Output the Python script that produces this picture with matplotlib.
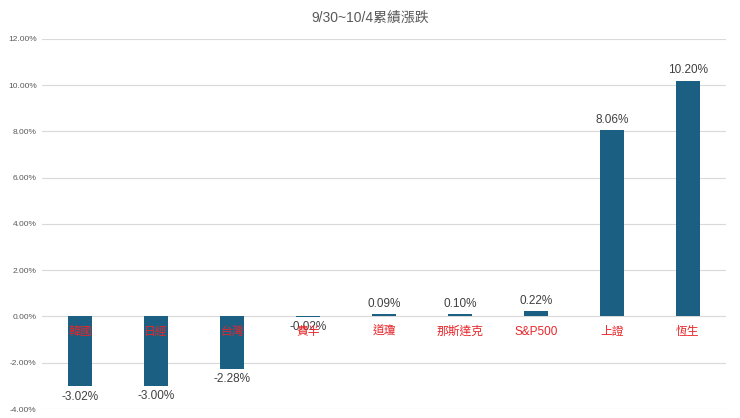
import matplotlib.pyplot as plt
from matplotlib.ticker import FuncFormatter

plt.rcParams['font.family'] = ['Liberation Sans', 'Noto Sans CJK TC', 'DejaVu Sans']

names = ['韓國', '日經', '台灣', '費半', '道瓊', '那斯達克', 'S&P500', '上證', '恆生']
changes = [-3.02, -3.00, -2.28, -0.02, 0.09, 0.10, 0.22, 8.06, 10.20]
yticks = [-4, -2, 0, 2, 4, 6, 8, 10, 12]

fig = plt.figure(figsize=(7.4, 4.18), dpi=100)
ax = fig.add_axes([0.057, 0.0215, 0.924, 0.8855])

x = range(len(names))
ax.bar(x, changes, width=0.32, color='#1b5f82', zorder=2)

ax.set_xlim(-0.5, len(names) - 0.5)
ax.set_ylim(-4, 12)
ax.set_yticks(yticks)
ax.yaxis.set_major_formatter(FuncFormatter(lambda v, p: f'{v:.2f}%'))
ax.tick_params(axis='y', labelsize=6, colors='#595959', length=0, pad=4)
ax.set_xticks([])
ax.grid(axis='y', color='#d9d9d9', linewidth=0.8, zorder=0)
for s in ax.spines.values():
    s.set_visible(False)

for i, v in enumerate(changes):
    if v < 0:
        ax.annotate(f'{v:.2f}%', (i, v), xytext=(0, -3), textcoords='offset points',
                    ha='center', va='top', fontsize=8.5, color='#404040', zorder=3)
    else:
        ax.annotate(f'{v:.2f}%', (i, v), xytext=(0, 3), textcoords='offset points',
                    ha='center', va='bottom', fontsize=8.5, color='#404040', zorder=3)
    ax.annotate(names[i], (i, 0), xytext=(0, -11), textcoords='offset points',
                ha='center', va='center', fontsize=8.5, color='#e8262a', zorder=4)

fig.text(0.5, 0.957, '9/30~10/4累績漲跌', ha='center', va='center',
         fontsize=10, color='#595959')

fig.savefig('out.png', dpi=100)
